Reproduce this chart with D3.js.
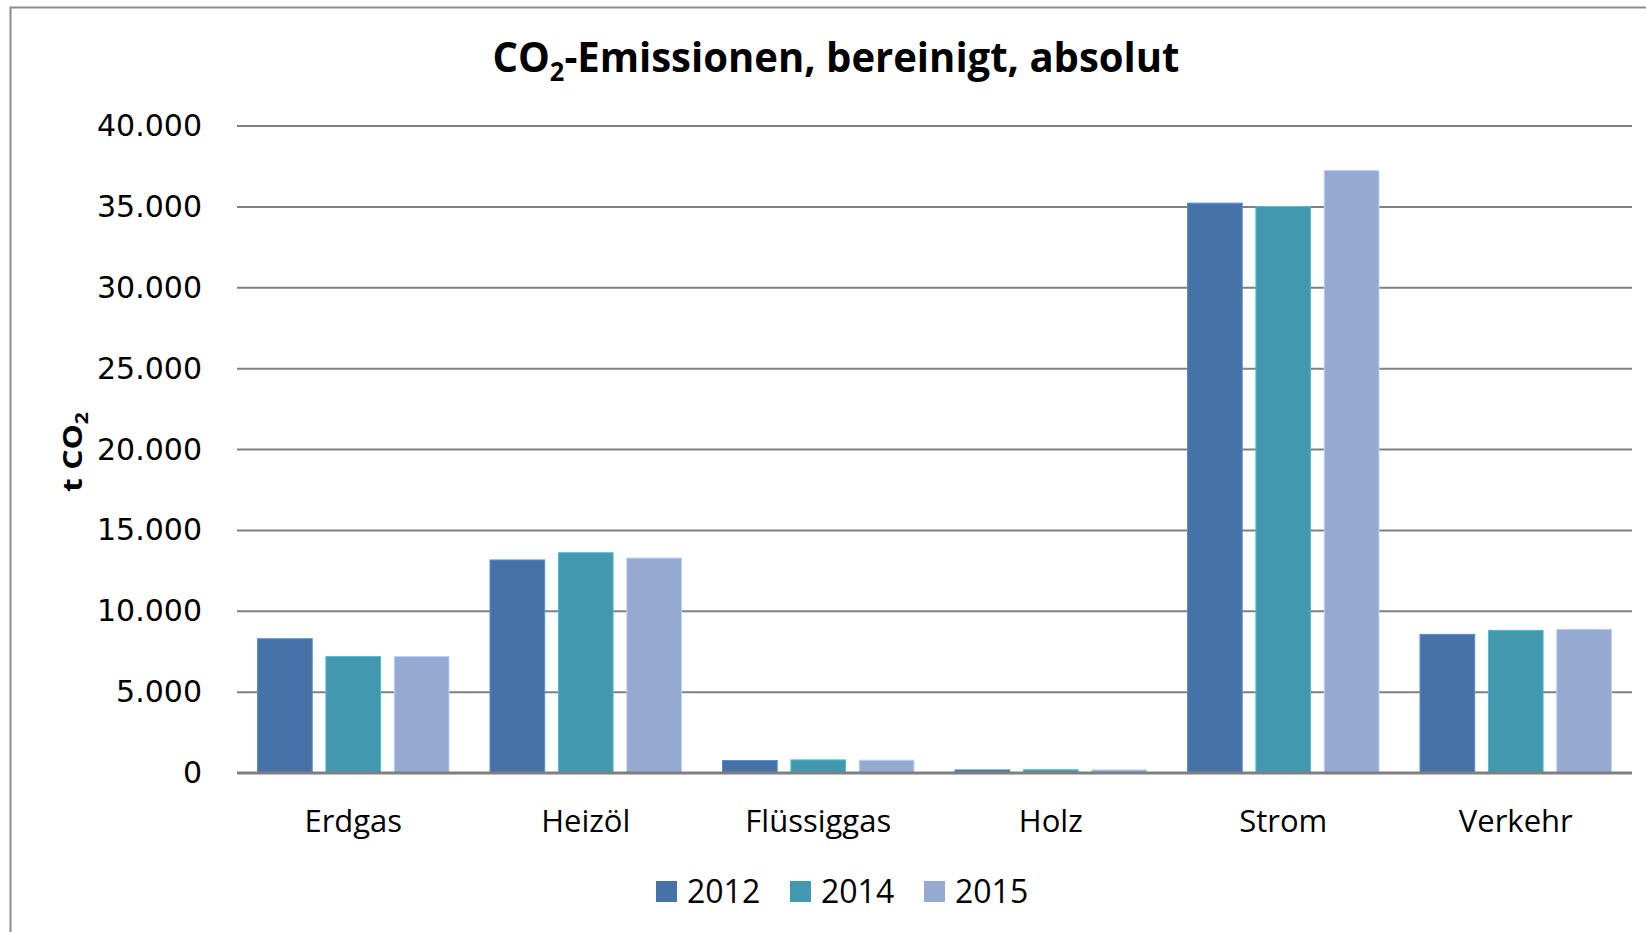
<!DOCTYPE html>
<html>
<head>
<meta charset="utf-8">
<script src="https://cdn.jsdelivr.net/npm/d3@7"></script>
<style>
    body { margin: 0; background: #fff; }
    svg { display: block; }
</style>
</head>
<body>
<div class="chartContainer"></div>
<script>
// categories and series
var categories = [ 'Erdgas' , 'Heizöl' , 'Flüssiggas' , 'Holz' , 'Strom' , 'Verkehr' ];
var years = [ '2012' , '2014' , '2015' ];
var values2012 = [ 8300 , 13170 , 770 , 190 , 35230 , 8570 ];
var values2014 = [ 7200 , 13620 , 810 , 200 , 35020 , 8820 ];
var values2015 = [ 7200 , 13290 , 790 , 190 , 37240 , 8880 ];
var yTicks = [ 0 , 5000 , 10000 , 15000 , 20000 , 25000 , 30000 , 35000 , 40000 ];
var colors = [ '#4672a8' , '#4298af' , '#95a9d1' ];

var series = [ values2012 , values2014 , values2015 ];

var width = 1646 , height = 932;
var plot = { left: 237 , right: 1632 , top: 126 , bottom: 773 };

var svg = d3.select( '.chartContainer' )
    .append( 'svg' )
    .attr( 'width' , width )
    .attr( 'height' , height );

// chart frame, runs past the right and bottom edge
svg.append( 'rect' )
    .attr( 'x' , 10.5 )
    .attr( 'y' , 7.5 )
    .attr( 'width' , 1700 )
    .attr( 'height' , 1000 )
    .attr( 'fill' , 'none' )
    .attr( 'stroke' , '#8c8c8c' )
    .attr( 'stroke-width' , 2 );

var x0 = d3.scaleBand()
    .domain( categories )
    .range( [ plot.left , plot.right ] );

// excel-ish: gap width 75%, overlap -25%
var x1 = d3.scaleBand()
    .domain( years )
    .range( [ 0 , x0.bandwidth() ] )
    .paddingInner( 0.2 )
    .paddingOuter( 0.3 );

var y = d3.scaleLinear()
    .domain( [ 0 , 40000 ] )
    .range( [ plot.bottom , plot.top ] );

var fmt = function( d ) { return d3.format( ',' )( d ).replace( /,/g , '.' ); };

// gridlines
svg.append( 'g' )
    .selectAll( 'line' )
    .data( yTicks.filter( function( d ){ return d > 0; } ) )
    .enter()
        .append( 'line' )
        .attr( 'x1' , plot.left )
        .attr( 'x2' , plot.right )
        .attr( 'y1' , function( d ){ return y( d ); } )
        .attr( 'y2' , function( d ){ return y( d ); } )
        .attr( 'stroke' , '#808080' )
        .attr( 'stroke-width' , 2 );

// y axis labels
var yAxis = svg.append( 'g' )
    .attr( 'transform' , 'translate(' + ( plot.left - 35 ) + ',0)' )
    .call( d3.axisLeft( y ).tickValues( yTicks ).tickFormat( fmt ).tickSize( 0 ).tickPadding( 0 ) );
yAxis.select( '.domain' ).remove();
yAxis.selectAll( 'text' )
    .attr( 'font-family' , '"DejaVu Sans", Verdana, sans-serif' )
    .attr( 'font-size' , 30 )
    .attr( 'fill' , '#000' );

// bars
var groups = svg.append( 'g' )
    .selectAll( 'g' )
    .data( categories )
    .enter()
        .append( 'g' )
        .attr( 'transform' , function( d ){ return 'translate(' + x0( d ) + ',0)'; } );

groups.selectAll( 'rect' )
    .data( function( d , i ){
        return years.map( function( yr , j ){ return { year: yr , value: series[ j ][ i ] , idx: j }; } );
    })
    .enter()
        .append( 'rect' )
        .attr( 'x' , function( d ){ return x1( d.year ); } )
        .attr( 'width' , x1.bandwidth() )
        .attr( 'y' , function( d ){ return y( d.value ); } )
        .attr( 'height' , function( d ){ return plot.bottom - y( d.value ); } )
        .attr( 'fill' , function( d ){ return colors[ d.idx ]; } )
        .attr( 'stroke' , function( d ){ return d3.color( colors[ d.idx ] ).brighter( 0.6 ); } )
        .attr( 'stroke-width' , 1 );

// zero line
svg.append( 'line' )
    .attr( 'x1' , plot.left )
    .attr( 'x2' , plot.right )
    .attr( 'y1' , y( 0 ) )
    .attr( 'y2' , y( 0 ) )
    .attr( 'stroke' , '#7f7f7f' )
    .attr( 'stroke-width' , 3 );

// category labels
var xAxis = svg.append( 'g' )
    .attr( 'transform' , 'translate(0,' + ( plot.bottom + 59 ) + ')' )
    .call( d3.axisBottom( x0 ).tickSize( 0 ).tickPadding( 0 ) );
xAxis.select( '.domain' ).remove();
xAxis.selectAll( 'text' )
    .attr( 'dy' , 0 )
    .attr( 'font-family' , '"Open Sans", sans-serif' )
    .attr( 'font-size' , 31 )
    .attr( 'fill' , '#000' );

// title
var title = svg.append( 'text' )
    .attr( 'x' , 836 )
    .attr( 'y' , 72 )
    .attr( 'text-anchor' , 'middle' )
    .attr( 'font-family' , '"Open Sans", sans-serif' )
    .attr( 'font-weight' , 'bold' )
    .attr( 'font-size' , 41 )
    .attr( 'textLength' , 687 )
    .attr( 'lengthAdjust' , 'spacingAndGlyphs' );
title.append( 'tspan' ).text( 'CO' );
title.append( 'tspan' ).attr( 'dy' , 9 ).attr( 'font-size' , 26 ).text( '2' );
title.append( 'tspan' ).attr( 'dy' , -9 ).text( '-Emissionen, bereinigt, absolut' );

// y axis title
var yTitle = svg.append( 'text' )
    .attr( 'transform' , 'translate(82,452) rotate(-90)' )
    .attr( 'text-anchor' , 'middle' )
    .attr( 'font-family' , '"Open Sans", sans-serif' )
    .attr( 'font-weight' , 'bold' )
    .attr( 'font-size' , 27 )
    .attr( 'textLength' , 80 )
    .attr( 'lengthAdjust' , 'spacingAndGlyphs' );
yTitle.append( 'tspan' ).text( 't CO' );
yTitle.append( 'tspan' ).attr( 'dy' , 6 ).attr( 'font-size' , 18 ).text( '2' );

// legend
var legendX = [ 656 , 790 , 924 ];
var legend = svg.append( 'g' )
    .selectAll( 'g' )
    .data( years )
    .enter()
        .append( 'g' )
        .attr( 'transform' , function( d , i ){ return 'translate(' + legendX[ i ] + ',881)'; } );

legend.append( 'rect' )
    .attr( 'width' , 21 )
    .attr( 'height' , 21 )
    .attr( 'fill' , function( d , i ){ return colors[ i ]; } );

legend.append( 'text' )
    .attr( 'x' , 31 )
    .attr( 'y' , 22 )
    .attr( 'font-family' , '"Open Sans", sans-serif' )
    .attr( 'font-size' , 32 )
    .text( function( d ){ return d; } );
</script>
</body>
</html>
